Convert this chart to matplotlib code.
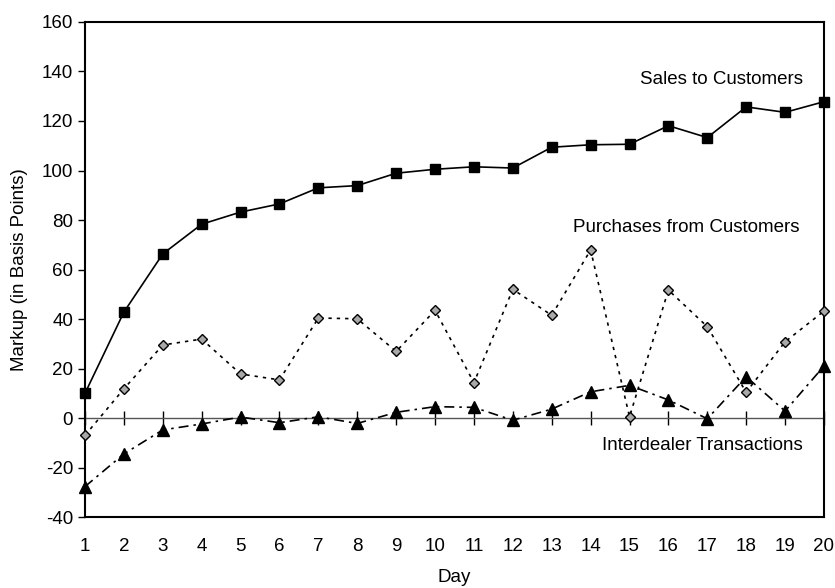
import numpy as np
import matplotlib
matplotlib.use("Agg")
import matplotlib.pyplot as plt

plt.rcParams['font.family'] = ['Liberation Sans', 'DejaVu Sans']
plt.rcParams['axes.unicode_minus'] = False

days = list(range(1, 21))
sales = [10, 42.8, 66.3, 78.3, 83.2, 86.5, 93, 93.9, 98.9, 100.5,
         101.5, 101, 109.4, 110.4, 110.6, 118.1, 113.3, 125.7, 123.5, 127.8]
purchases = [-7, 11.8, 29.5, 31.9, 17.8, 15.4, 40.4, 40.1, 26.9, 43.5,
             14.3, 52, 41.5, 67.9, 0.5, 51.7, 36.9, 10.4, 30.8, 43.2]
interdealer = [-27.7, -14.5, -4.8, -2.4, 0.4, -1.9, 0.5, -2.2, 2.3, 4.6,
               4.3, -0.9, 3.6, 10.6, 13.2, 7.3, -0.3, 16.7, 2.8, 21]
yticks = list(range(-40, 161, 20))

fs = 13.5

fig = plt.figure(figsize=(8.35, 5.88), dpi=100)
ax = fig.add_axes([0.1018, 0.1207, 0.885, 0.8419])

ax.axhline(0, color='#555555', lw=1.0, zorder=1)

ax.plot(days, sales, color='black', lw=1.2, marker='s', ms=7,
        mfc='black', mec='black', zorder=3, clip_on=False)
ax.plot(days, purchases, color='black', lw=1.2, ls=(0, (2, 3)), marker='D', ms=5,
        mfc='#a8a8a8', mec='black', mew=1.0, zorder=3, clip_on=False)
ax.plot(days, interdealer, color='black', lw=1.2, ls=(0, (6, 3, 1.5, 3)), marker='^', ms=8,
        mfc='black', mec='black', zorder=3, clip_on=False)

ax.set_xlim(1, 20)
ax.set_ylim(-40, 160)
ax.set_xticks(days)
ax.set_yticks(yticks)
ax.tick_params(axis='x', length=0, labelsize=fs, pad=15)
ax.tick_params(axis='y', direction='out', length=5, width=1, labelsize=fs)
for s in ax.spines.values():
    s.set_linewidth(1.5)

# tick marks crossing the zero line
sec = ax.secondary_xaxis(0.2)
sec.set_xticks(days)
sec.tick_params(axis='x', direction='inout', length=10, width=1, labelbottom=False)
sec.spines['bottom'].set_visible(False)

ax.set_xlabel('Day', fontsize=fs, labelpad=10)
ax.set_ylabel('Markup (in Basis Points)', fontsize=fs, labelpad=10)

ax.text(19.46, 136.6, 'Sales to Customers', ha='right', va='center', fontsize=fs)
ax.text(19.38, 76.8, 'Purchases from Customers', ha='right', va='center', fontsize=fs)
ax.text(19.46, -11.3, 'Interdealer Transactions', ha='right', va='center', fontsize=fs)

fig.savefig('out.png', dpi=100)
